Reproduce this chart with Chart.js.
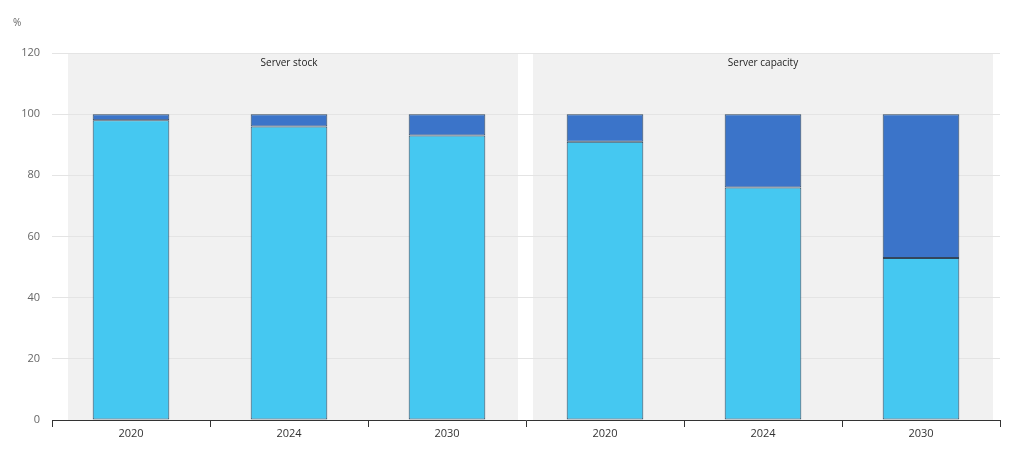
<!DOCTYPE html>
<html>
<head>
<meta charset="utf-8">
<script src="https://cdn.jsdelivr.net/npm/chart.js@4"></script>
<style>
html,body{margin:0;padding:0;background:#fff;}
#wrap{width:1024px;height:461px;position:relative;}
</style>
</head>
<body>
<div id="wrap"><canvas id="c" width="1024" height="461"></canvas></div>
<script>
const categories = ['2020', '2024', '2030', '2020', '2024', '2030'];
const panelTitles = ['Server stock', 'Server capacity'];
const lowerShare = [98, 96, 93, 91, 76, 53];
const upperShare = [2, 4, 7, 9, 24, 47];
const yTicks = [0, 20, 40, 60, 80, 100, 120];

const FONT = '"Open Sans", "Noto Sans", sans-serif';

const panelPlugin = {
  id: 'panels',
  beforeDraw(chart) {
    const {ctx, chartArea, scales} = chart;
    const x = scales.x;
    const left = chartArea.left, right = chartArea.right;
    const mid = (x.getPixelForValue(2) + x.getPixelForValue(3)) / 2;
    ctx.save();
    ctx.fillStyle = '#f1f1f1';
    ctx.fillRect(left + 16, chartArea.top, mid - 8 - (left + 16), chartArea.bottom - chartArea.top);
    ctx.fillRect(mid + 7, chartArea.top, right - 7 - (mid + 7), chartArea.bottom - chartArea.top);
    ctx.restore();
  },
  afterDraw(chart) {
    const {ctx, chartArea, scales} = chart;
    const x = scales.x;
    ctx.save();
    ctx.fillStyle = '#222';
    ctx.font = '10px ' + FONT;
    ctx.textAlign = 'center';
    ctx.textBaseline = 'middle';
    const c1 = x.getPixelForValue(1);
    const c2 = x.getPixelForValue(4);
    ctx.fillText(panelTitles[0], c1, chartArea.top + 10);
    ctx.fillText(panelTitles[1], c2, chartArea.top + 10);
    ctx.fillStyle = '#666';
    ctx.textAlign = 'left';
    ctx.font = '10px ' + FONT;
    ctx.fillText('%', 13, 23);
    ctx.restore();
  }
};

new Chart(document.getElementById('c'), {
  type: 'bar',
  data: {
    labels: categories,
    datasets: [
      {
        label: 'Lower',
        data: lowerShare,
        backgroundColor: '#45c8f1',
        borderColor: '#33475c',
        borderWidth: 1,
        borderSkipped: false,
        categoryPercentage: 1,
        barPercentage: 0.485
      },
      {
        label: 'Upper',
        data: upperShare,
        backgroundColor: '#3b74c9',
        borderColor: '#33475c',
        borderWidth: 1,
        borderSkipped: false,
        categoryPercentage: 1,
        barPercentage: 0.485
      }
    ]
  },
  options: {
    responsive: false,
    animation: false,
    devicePixelRatio: 1,
    layout: {padding: {top: 53, right: 24, left: 0, bottom: 0}},
    plugins: {legend: {display: false}, tooltip: {enabled: false}},
    scales: {
      x: {
        stacked: true,
        offset: true,
        grid: {offset: true, drawOnChartArea: false, color: '#333', tickLength: 7, lineWidth: 1},
        border: {display: true, color: '#333', width: 1},
        ticks: {color: '#333', font: {family: FONT, size: 11}, padding: 0, maxRotation: 0},
        afterFit(s) { s.height = 41; }
      },
      y: {
        stacked: true,
        min: 0,
        max: 120,
        afterBuildTicks(s) { s.ticks = yTicks.map(v => ({value: v})); },
        grid: {color: '#e4e4e4', drawTicks: false, lineWidth: 1},
        border: {display: false},
        ticks: {color: '#666', font: {family: FONT, size: 11}, padding: 12},
        afterFit(s) { s.width = 52; }
      }
    }
  },
  plugins: [panelPlugin]
});
</script>
</body>
</html>
